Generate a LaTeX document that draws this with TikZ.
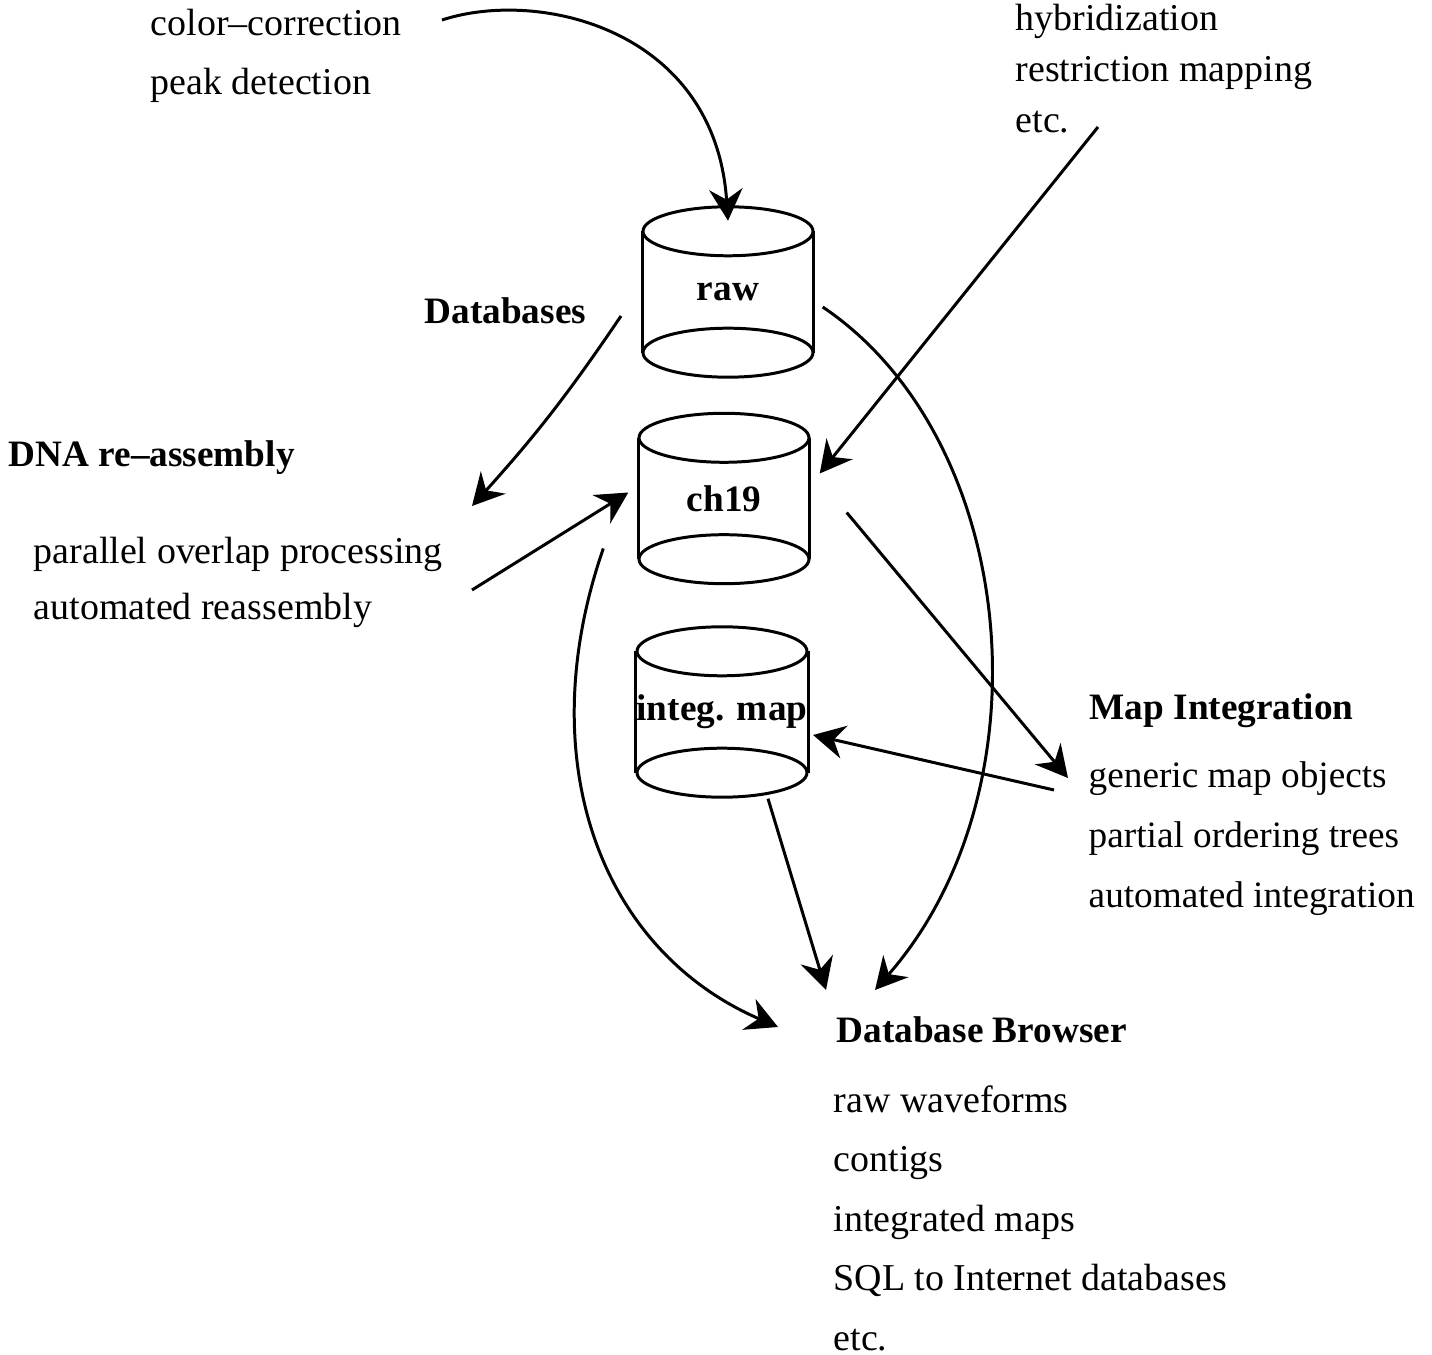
\documentclass[tikz,border=0pt]{standalone}
\usepackage{fontspec}
\setmainfont{Liberation Serif}
\usetikzlibrary{arrows.meta,positioning}

\begin{document}
\begin{tikzpicture}[
  txt/.style={anchor=base west,inner sep=0pt,align=left,font=\fontsize{10.8}{17}\selectfont},
  head/.style={anchor=base west,inner sep=0pt,font=\fontsize{10.6}{13}\selectfont\bfseries},
  db/.style={inner sep=0pt,minimum width=1.7cm,minimum height=1.2cm,font=\fontsize{10.6}{13}\selectfont\bfseries},
  cyl/.style={line width=0.85pt},
  arr/.style={-{Stealth[length=9pt,width=9.5pt,inset=3pt]},line width=0.85pt}
]
  \useasboundingbox (0,0) rectangle (14.32,-13.55);

  % databases
  \node[db] (raw) at (7.28,-2.92) {raw};
  \node[db] (ch19) at (7.24,-4.985) {ch19};
  \node[db] (integ) at (7.22,-7.12) {integ. map};
  \foreach \n in {raw,ch19,integ}{
    \draw[cyl] (\n.north west) -- (\n.south west) (\n.north east) -- (\n.south east);
    \draw[cyl] (\n.north) ellipse [x radius=0.85cm,y radius=0.245cm];
    \draw[cyl] (\n.south) ellipse [x radius=0.85cm,y radius=0.245cm];
  }
  \node[head] (dbs) at (4.24,-3.24) {Databases};

  % processing steps (base = last line)
  \node[txt] (peak) at (1.50,-0.95) {color–correction\\peak detection};
  \node[txt,font=\fontsize{10.8}{14.6}\selectfont] (hyb) at (10.15,-1.33) {hybridization\\restriction mapping\\etc.};
  \node[head] (dna) at (0.08,-4.67) {DNA re–assembly};
  \node[txt,font=\fontsize{10.8}{16}\selectfont] (overlap) at (0.33,-6.20) {parallel overlap processing\\automated reassembly};
  \node[head] (mapint) at (10.89,-7.20) {Map Integration};
  \node[txt,font=\fontsize{10.6}{17}\selectfont] (maplist) at (10.88,-9.07) {generic map objects\\partial ordering trees\\automated integration};
  \node[head] (browser) at (8.36,-10.42) {Database Browser};
  \node[txt,font=\fontsize{10.8}{16.9}\selectfont] (brlist) at (8.33,-13.50) {raw waveforms\\contigs\\integrated maps\\SQL to Internet databases\\etc.};

  % free ends of the arrows
  \coordinate (c1) at (4.42,-0.20);
  \coordinate (c2) at (10.98,-1.27);
  \coordinate (c3) at (6.21,-3.16);
  \coordinate (c4) at (4.72,-5.06);
  \coordinate (c5) at (4.72,-5.90);
  \coordinate (c6) at (10.68,-7.78);
  \coordinate (c7) at (10.54,-7.90);
  \coordinate (b1) at (7.78,-10.27);
  \coordinate (b2) at (8.26,-9.90);
  \coordinate (b3) at (8.75,-9.90);

  \draw[arr] (c1) .. controls (5.40,0.12) and (7.15,-0.30) .. ([yshift=3pt]raw.north);
  \draw[arr] (c2) -- ([shift={(0.10,0.25)}]ch19.east);
  \draw[arr] (c3) to[bend left=4] (c4);
  \draw[arr] (c5) -- ([shift={(-0.10,0.06)}]ch19.west);
  \draw[arr] ([shift={(0.09,-0.15)}]raw.east) .. controls (10.20,-4.40) and (10.50,-7.90) .. (b3);
  \draw[arr] ([shift={(-0.35,-0.50)}]ch19.west) .. controls (5.30,-7.60) and (6.00,-9.50) .. (b1);
  \draw[arr] ([shift={(0.37,-0.14)}]ch19.east) -- (c6);
  \draw[arr] (c7) -- ([shift={(0.05,-0.23)}]integ.east);
  \draw[arr] ([shift={(0.46,-0.26)}]integ.south) -- (b2);
\end{tikzpicture}
\end{document}
